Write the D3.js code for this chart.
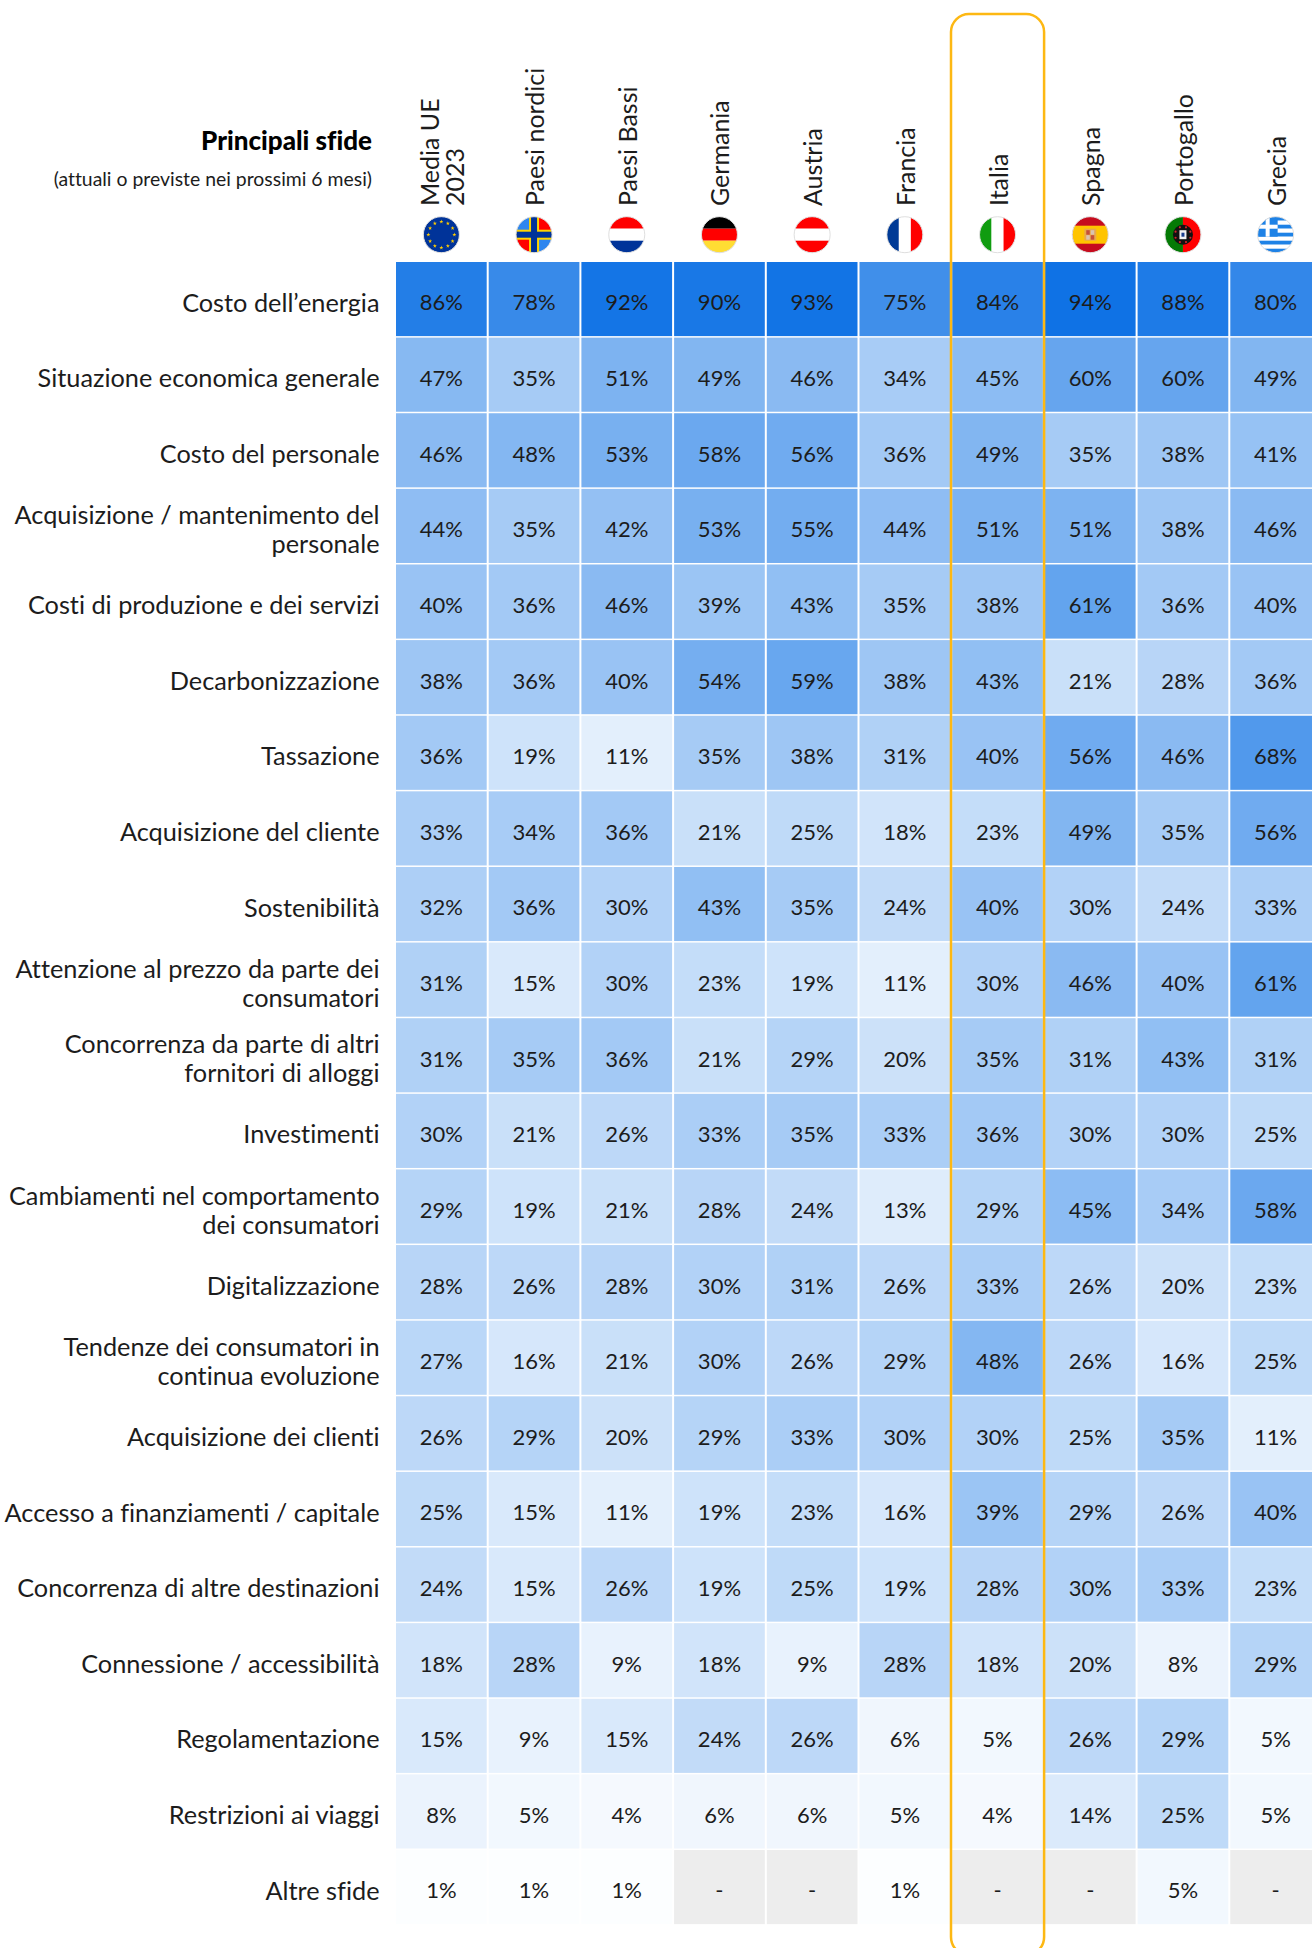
<!DOCTYPE html>
<html lang="it">
<head>
<meta charset="utf-8">
<title>Principali sfide</title>
<script src="https://cdn.jsdelivr.net/npm/d3@7"></script>
<style>
html,body{margin:0;padding:0;background:#fff;}
svg{display:block;}
text{font-family:Lato,"Noto Sans",sans-serif;font-weight:400;fill:#1c1c1c;font-variant-ligatures:none;}
</style>
</head>
<body>
<svg id="chart" width="1312" height="1948"></svg>
<script>
// Column headers: each entry may hold one or two rotated lines.
const columns = ["Media UE|2023","Paesi nordici","Paesi Bassi","Germania","Austria","Francia","Italia","Spagna","Portogallo","Grecia"];
const flagCodes = ["eu","nordic","nl","de","at","fr","it","es","pt","gr"];

const challenges = [
  "Costo dell’energia","Situazione economica generale","Costo del personale",
  "Acquisizione / mantenimento del|personale","Costi di produzione e dei servizi",
  "Decarbonizzazione","Tassazione","Acquisizione del cliente","Sostenibilità",
  "Attenzione al prezzo da parte dei|consumatori","Concorrenza da parte di altri|fornitori di alloggi",
  "Investimenti","Cambiamenti nel comportamento|dei consumatori","Digitalizzazione",
  "Tendenze dei consumatori in|continua evoluzione","Acquisizione dei clienti",
  "Accesso a finanziamenti / capitale","Concorrenza di altre destinazioni",
  "Connessione / accessibilità","Regolamentazione","Restrizioni ai viaggi","Altre sfide"
];

// Percentages by row; null marks a cell with no figure.
const shares = [
  [86,78,92,90,93,75,84,94,88,80],
  [47,35,51,49,46,34,45,60,60,49],
  [46,48,53,58,56,36,49,35,38,41],
  [44,35,42,53,55,44,51,51,38,46],
  [40,36,46,39,43,35,38,61,36,40],
  [38,36,40,54,59,38,43,21,28,36],
  [36,19,11,35,38,31,40,56,46,68],
  [33,34,36,21,25,18,23,49,35,56],
  [32,36,30,43,35,24,40,30,24,33],
  [31,15,30,23,19,11,30,46,40,61],
  [31,35,36,21,29,20,35,31,43,31],
  [30,21,26,33,35,33,36,30,30,25],
  [29,19,21,28,24,13,29,45,34,58],
  [28,26,28,30,31,26,33,26,20,23],
  [27,16,21,30,26,29,48,26,16,25],
  [26,29,20,29,33,30,30,25,35,11],
  [25,15,11,19,23,16,39,29,26,40],
  [24,15,26,19,25,19,28,30,33,23],
  [18,28,9,18,9,28,18,20,8,29],
  [15,9,15,24,26,6,5,26,29,5],
  [8,5,4,6,6,5,4,14,25,5],
  [1,1,1,null,null,1,null,null,5,null]
];

const svg = d3.select("#chart");
const gridLeft = 396, gridTop = 262, pitchX = 92.7, pitchY = 75.62;

const x = d3.scaleBand().domain(columns).range([gridLeft, gridLeft + pitchX * columns.length]);
const y = d3.scaleBand().domain(challenges).range([gridTop, gridTop + pitchY * challenges.length]);
const color = d3.scaleLinear().domain([0, 94]).range(["#ffffff", "#0f72e5"]);
const gapX = 2, gapY = 1.5, textDrop = 3.5;

// Heatmap cells
const rows = svg.append("g").selectAll("g").data(challenges).join("g")
  .attr("transform", d => `translate(0,${y(d)})`);
const cells = rows.selectAll("g").data((d, i) => shares[i].map((v, j) => ({v, col: columns[j]}))).join("g")
  .attr("transform", d => `translate(${x(d.col)},0)`);
cells.append("rect")
  .attr("width", x.bandwidth() - gapX)
  .attr("height", y.bandwidth() - gapY)
  .attr("fill", d => d.v === null ? "#ededed" : color(d.v));
cells.append("text")
  .attr("x", (x.bandwidth() - gapX) / 2)
  .attr("y", (y.bandwidth() - gapY) / 2 + textDrop)
  .attr("dy", "0.36em")
  .attr("text-anchor", "middle")
  .attr("font-size", 22)
  .text(d => d.v === null ? "-" : d.v + "%");

// Row labels, right aligned against the grid
const labels = svg.append("g").selectAll("text").data(challenges).join("text")
  .attr("text-anchor", "end")
  .attr("font-size", 25.3)
  .attr("y", d => y(d) + (y.bandwidth() - gapY) / 2 + textDrop);
labels.each(function(d) {
  const parts = d.split("|");
  d3.select(this).selectAll("tspan").data(parts).join("tspan")
    .attr("x", 379.5)
    .attr("dy", (p, i) => i === 0 ? (0.36 - (parts.length - 1) * 0.575) + "em" : "1.15em")
    .text(p => p);
});

// Title block
svg.append("text").attr("x", 372).attr("y", 150).attr("text-anchor", "end")
  .attr("font-size", 26).style("font-weight", 900).style("fill", "#000").text("Principali sfide");
svg.append("text").attr("x", 372).attr("y", 186).attr("text-anchor", "end")
  .attr("font-size", 19.4).text("(attuali o previste nei prossimi 6 mesi)");

// Rotated column headers
const headers = svg.append("g").selectAll("text").data(columns).join("text")
  .attr("transform", d => `translate(${x(d) + (x.bandwidth() - gapX) / 2 + 1},206) rotate(-90)`)
  .attr("font-size", 25);
headers.each(function(d) {
  const parts = d.split("|");
  d3.select(this).selectAll("tspan").data(parts).join("tspan")
    .attr("x", 0)
    .attr("y", 0)
    .attr("dy", (p, i) => (0.36 + (i - (parts.length - 1) / 2) * 1.02) + "em")
    .text(p => p);
});

// Round flags, drawn on a 36-unit square and clipped to a circle
const flagR = 18;
const bands = (colors, vertical) => g => colors.forEach((c, i) => {
  const s = 36 / colors.length;
  g.append("rect")
    .attr("x", vertical ? -18 + i * s : -18).attr("y", vertical ? -18 : -18 + i * s)
    .attr("width", vertical ? s : 36).attr("height", vertical ? 36 : s).attr("fill", c);
});
const box = (g, x0, y0, w, h, c) => g.append("rect").attr("x", x0).attr("y", y0).attr("width", w).attr("height", h).attr("fill", c);
const flagPainters = {
  eu: g => {
    box(g, -18, -18, 36, 36, "#003399");
    const star = d3.symbol().type(d3.symbolStar).size(5);
    d3.range(12).forEach(i => {
      const a = i * Math.PI / 6;
      g.append("path").attr("d", star).attr("fill", "#ffcc00")
        .attr("transform", `translate(${13 * Math.sin(a)},${-13 * Math.cos(a)})`);
    });
  },
  nordic: g => {
    box(g, -18, -18, 18, 18, "#2e86ef"); box(g, 0, -18, 18, 18, "#ff0000");
    box(g, -18, 0, 18, 18, "#ff0000"); box(g, 0, 0, 18, 18, "#2e86ef");
    box(g, -18, -5, 36, 10, "#ffd500"); box(g, -5, -18, 10, 36, "#ffd500");
    box(g, -18, -3, 36, 6, "#003399"); box(g, -3, -18, 6, 36, "#003399");
  },
  nl: bands(["#ff0000", "#ffffff", "#003399"]),
  de: bands(["#000000", "#ff0000", "#ffdd33"]),
  at: bands(["#ff0000", "#ffffff", "#ff0000"]),
  fr: bands(["#003a96", "#ffffff", "#ff0000"], true),
  it: bands(["#109c10", "#ffffff", "#ff0000"], true),
  es: g => {
    box(g, -18, -18, 36, 36, "#c60b1e"); box(g, -18, -9, 36, 18, "#ffc400");
    box(g, -6, -6, 12, 12, "#e9a94a");
    box(g, -4, -4.5, 3.5, 4.5, "#c5503a"); box(g, 0.5, -4.5, 3.5, 4.5, "#d9c3b0");
    box(g, -4, 0.5, 3.5, 4.5, "#d9c3b0"); box(g, 0.5, 0.5, 3.5, 4.5, "#c5503a");
  },
  pt: g => {
    box(g, -18, -18, 18, 36, "#047a05"); box(g, 0, -18, 18, 36, "#ff0000");
    g.append("circle").attr("r", 10).attr("fill", "#111");
    d3.range(8).forEach(i => {
      const a = i * Math.PI / 4 + Math.PI / 8;
      g.append("circle").attr("cx", 8 * Math.cos(a)).attr("cy", 8 * Math.sin(a)).attr("r", 1.1).attr("fill", "#d4242a");
    });
    box(g, -3.5, -4.5, 7, 9, "#f2f2f2");
    box(g, -1.5, -2, 3, 4, "#1b3f8f");
  },
  gr: g => {
    d3.range(9).forEach(i => box(g, -18, -18 + i * 4, 36, 4, i % 2 ? "#ffffff" : "#1e82e6"));
    box(g, -18, -18, 20, 20, "#1e82e6");
    box(g, -18, -10, 20, 4, "#ffffff"); box(g, -10, -18, 4, 20, "#ffffff");
  }
};
svg.append("defs").append("clipPath").attr("id", "flag-clip").append("circle").attr("r", flagR);
const flags = svg.append("g").selectAll("g").data(columns).join("g")
  .attr("transform", d => `translate(${x(d) + (x.bandwidth() - gapX) / 2},234.7)`);
flags.each(function(d, i) {
  const g = d3.select(this);
  const inner = g.append("g").attr("clip-path", "url(#flag-clip)");
  flagPainters[flagCodes[i]](inner);
  g.append("circle").attr("r", flagR).attr("fill", "none").attr("stroke", "#dfdfdf").attr("stroke-width", 1);
});

// Outline around the Italian column, running past the foot of the page
svg.append("rect")
  .attr("x", x("Italia") - 1.2).attr("y", 14)
  .attr("width", x.bandwidth() - gapX + 2.4).attr("height", 1941)
  .attr("rx", 18).attr("ry", 18)
  .attr("fill", "none").attr("stroke", "#fdb813").attr("stroke-width", 2.5);
</script>
</body>
</html>
